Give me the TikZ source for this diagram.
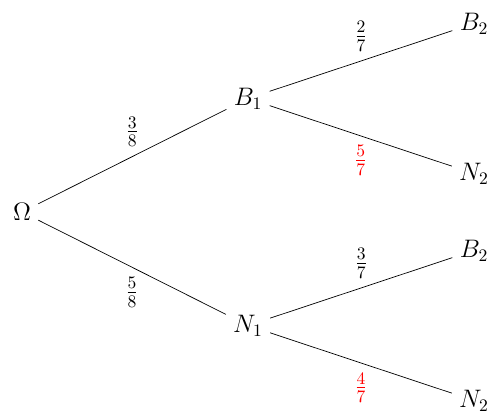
\documentclass[tikz,border=0pt]{standalone}
\usepackage{tikz}
\usetikzlibrary{positioning}
\tikzset{
  event/.style={font=\Large, inner sep=4pt},
  prob label/.style={font=\Large, midway},
  branch/.style={thin},
}

\begin{document}
\begin{tikzpicture}[
  grow'=right,
  level 1/.style={sibling distance=4.54cm},
  level 2/.style={sibling distance=3cm},
  level distance=4.52cm,
]
  \useasboundingbox (0,0) rectangle (9.8,8.24);

  % Root
  \node[event] (omega) at (0.44,4.0) {$\Omega$}
    child[branch] {
      node[event] (b1) {$B_1$}
        child[branch] {node[event] (b1b2) {$B_2$} edge from parent node[prob label, above=2pt]{$\frac{2}{7}$}}
        child[branch] {node[event] (b1n2) {$N_2$} edge from parent node[prob label, below=2pt, red]{$\frac{5}{7}$}}
      edge from parent node[prob label, above=2pt]{$\frac{3}{8}$}
    }
    child[branch] {
      node[event] (n1) {$N_1$}
        child[branch] {node[event] (n1b2) {$B_2$} edge from parent node[prob label, above=2pt]{$\frac{3}{7}$}}
        child[branch] {node[event] (n1n2) {$N_2$} edge from parent node[prob label, below=2pt, red]{$\frac{4}{7}$}}
      edge from parent node[prob label, below=2pt]{$\frac{5}{8}$}
    };

\end{tikzpicture}
\end{document}
